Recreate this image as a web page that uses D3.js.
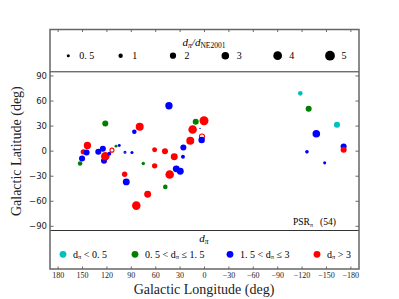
<!DOCTYPE html>
<html>
<head>
<meta charset="utf-8">
<script src="https://cdn.jsdelivr.net/npm/d3@7"></script>
<style>
  body { margin: 0; background: #fff; }
  svg { display: block; }
  .serif { font-family: "Liberation Serif", "DejaVu Serif", serif; }
  .sans { font-family: "DejaVu Sans", sans-serif; }
</style>
</head>
<body>
<div id="chart"></div>
<script>
// --- Data ---
// galactic longitude, latitude, d_pi / d_NE2001, d_pi bin, open marker
const lon = [153, 150.6, 149, 144, 145, 130.6, 125, 123.6, 122, 117, 113.8, 108.8, 104.8, 122,
  97.8, 89.2, 86.3, 79.7, 75.3, 98.2, 96.2, 83.9, 69.9, 61.3, 48.6, 61.3, 37.2, 42.8, 34.7,
  29.8, 48.2, 43.7, 26, 26.5, 10.8, 14.6, 17.5, 0.6, 3.1, 3.5, 5.5,
  -117.8, -128.1, -162.9, -137.5, -171.1, -171.1, -126, -147.8];
const lat = [-14.8, -8.8, -0.8, 6.8, -1.6, -0.8, 2.8, -11.6, -6, -3, 1.2, 6, 6.8, 33.2,
  -1.2, -1.6, 23.2, 29.2, -14.8, -27.6, -36.8, -65.2, -51.6, 1.6, 0, -17.6, -6.8, -28, -21.2,
  -24, -42.8, 54.4, 4.4, -6.8, 35.2, 26, 12.4, 36.4, 17.6, 13.2, 27.2,
  69.2, 50.8, 31.6, 20.8, 5.6, 1.6, -0.8, -14];
const ratio = [1.1, 1.9, 1.5, 2.8, 1.9, 1.9, 1.9, 1.9, 3.8, 0.8, 1.3, 0.45, 0.45, 1.9,
  0.45, 0.5, 1.1, 3.3, 0.6, 1.5, 2.5, 3.8, 2.5, 1.3, 1.9, 1.5, 2.5, 3.8, 2.5,
  2.5, 1.1, 2.8, 1.9, 0.8, 1.9, 3.8, 3.3, 4.2, 1.9, 2.2, 0.1,
  1.1, 1.9, 1.9, 3.0, 1.9, 1.9, 0.7, 0.5];
const bin = ["g", "b", "r", "r", "b", "b", "b", "b", "r", "b", "r", "g", "b", "g",
  "b", "b", "b", "r", "g", "r", "b", "r", "r", "r", "r", "r", "r", "r", "b",
  "b", "g", "b", "b", "b", "g", "r", "r", "r", "r", "b", "b",
  "c", "g", "c", "b", "b", "r", "b", "b"];
const openMarker = [10, 14, 38];

const xTicks = [180, 150, 120, 90, 60, 30, 0, -30, -60, -90, -120, -150, -180];
const yTicks = [90, 60, 30, 0, -30, -60, -90];
const sizeKeys = [0.5, 1, 2, 3, 4, 5];
const binKeys = ["c", "g", "b", "r"];
const binLabels = [["d", "π", " < 0. 5"], ["0. 5 < d", "π", " ≤ 1. 5"], ["1. 5 < d", "π", " ≤ 3"], ["d", "π", " > 3"]];

// --- Setup ---
const width = 399, height = 299;
const left = 50, right = 359;
const topBox = [29.5, 71.8], mainBox = [71.8, 230.5], botBox = [230.5, 269];

const color = d3.scaleOrdinal().domain(binKeys).range(["#00bfbf", "#008000", "#0000ff", "#ff0000"]);
const x = d3.scaleLinear().domain([190, -190]).range([left, right]);
const y = d3.scaleLinear().domain([-95, 95]).range([mainBox[1], mainBox[0]]);
const r = d3.scaleSqrt().domain([0, 5]).range([0, 4.9]);
const fmt = d => (d < 0 ? "\u2212" + Math.abs(d) : d);

const svg = d3.select("#chart").append("svg").attr("width", width).attr("height", height);

// --- Main plot points ---
const pts = lon.map((l, i) => ({ l, b: lat[i], s: ratio[i], c: bin[i], open: openMarker.includes(i) }));
svg.append("g").selectAll("circle").data(pts).join("circle")
    .attr("cx", d => x(d.l))
    .attr("cy", d => y(d.b))
    .attr("r", d => d.open ? r(d.s) - 0.5 : r(d.s))
    .attr("fill", d => d.open ? "#fff" : color(d.c))
    .attr("stroke", d => d.open ? color(d.c) : "none")
    .attr("stroke-width", 1.1);

// y ticks (inward, both sides)
const yt = svg.append("g");
yt.selectAll(".tl").data(yTicks).join("line")
    .attr("x1", left).attr("x2", left + 3.5).attr("y1", d => y(d)).attr("y2", d => y(d))
    .attr("stroke", "#444").attr("stroke-width", 0.8);
yt.selectAll(".tr").data(yTicks).join("line")
    .attr("x1", right).attr("x2", right - 3.5).attr("y1", d => y(d)).attr("y2", d => y(d))
    .attr("stroke", "#444").attr("stroke-width", 0.8);
yt.selectAll("text").data(yTicks).join("text")
    .attr("class", "sans")
    .attr("x", left - 3).attr("y", d => y(d) + 3)
    .attr("text-anchor", "end").attr("font-size", 8.5).attr("fill", "#222")
    .text(fmt);

// x ticks: top of top box and bottom of bottom box
svg.append("g").selectAll("line").data(xTicks).join("line")
    .attr("x1", d => x(d)).attr("x2", d => x(d)).attr("y1", topBox[0]).attr("y2", topBox[0] + 2.5)
    .attr("stroke", "#444").attr("stroke-width", 0.8);
svg.append("g").selectAll("line").data(xTicks).join("line")
    .attr("x1", d => x(d)).attr("x2", d => x(d)).attr("y1", botBox[1]).attr("y2", botBox[1] - 2.5)
    .attr("stroke", "#444").attr("stroke-width", 0.8);
svg.append("g").selectAll("text").data(xTicks).join("text")
    .attr("class", "serif")
    .attr("x", d => x(d)).attr("y", 278)
    .attr("text-anchor", "middle").attr("font-size", 8).attr("fill", "#222")
    .text(fmt);

// --- Frames ---
svg.append("line").attr("x1", left).attr("x2", right).attr("y1", mainBox[0]).attr("y2", mainBox[0])
    .attr("stroke", "#333").attr("stroke-width", 1);
svg.append("line").attr("x1", left).attr("x2", right).attr("y1", botBox[0]).attr("y2", botBox[0])
    .attr("stroke", "#333").attr("stroke-width", 1);
svg.append("rect").attr("x", left).attr("y", topBox[0])
    .attr("width", right - left).attr("height", botBox[1] - topBox[0])
    .attr("fill", "none").attr("stroke", "#666").attr("stroke-width", 1.5);

// --- Size legend (top box) ---
const sizeT = svg.append("text").attr("class", "serif").attr("x", 204).attr("y", 46)
    .attr("text-anchor", "middle").attr("font-size", 11).attr("font-style", "italic");
sizeT.append("tspan").text("d");
sizeT.append("tspan").attr("font-size", 7.5).attr("dy", 2).text("π");
sizeT.append("tspan").attr("dy", -2).text("/d");
sizeT.append("tspan").attr("font-size", 7.5).attr("dy", 2).attr("font-style", "normal").text("NE2001");

const sx = d3.scalePoint().domain(sizeKeys).range([68.3, 330]);
const sk = svg.append("g").selectAll("g").data(sizeKeys).join("g")
    .attr("transform", d => `translate(${sx(d)},55.7)`);
sk.append("circle").attr("r", d => r(d)).attr("fill", "#000");
sk.append("text").attr("class", "serif").attr("x", d => d === 0.5 ? 11 : 11.5).attr("y", 3.5)
    .attr("font-size", 10).text(d => d === 0.5 ? "0. 5" : d);

// --- Colour legend (bottom box) ---
const binT = svg.append("text").attr("class", "serif").attr("x", 204).attr("y", 242)
    .attr("text-anchor", "middle").attr("font-size", 11).attr("font-style", "italic");
binT.append("tspan").text("d");
binT.append("tspan").attr("font-size", 7.5).attr("dy", 2).text("π");

const bx = [63, 135, 230, 317];
const bk = svg.append("g").selectAll("g").data(binKeys).join("g")
    .attr("transform", (d, i) => `translate(${bx[i]},254.3)`);
bk.append("circle").attr("r", 3.4).attr("fill", d => color(d));
bk.each(function(d, i) {
    const t = d3.select(this).append("text").attr("class", "serif")
        .attr("x", 10).attr("y", 3.5).attr("font-size", 10).attr("xml:space", "preserve");
    const [a, sub, b] = binLabels[i];
    t.append("tspan").text(a);
    t.append("tspan").attr("font-size", 6.5).attr("dy", 1.5).text(sub);
    t.append("tspan").attr("dy", -1.5).text(b);
});

// --- PSR count note ---
const note = svg.append("text").attr("class", "serif").attr("x", 293).attr("y", 225)
    .attr("font-size", 9.5).attr("xml:space", "preserve");
note.append("tspan").text("PSR");
note.append("tspan").attr("font-size", 6).attr("dy", 1.5).text("π");
note.append("tspan").attr("dy", -1.5).text("   (54)");

// --- Axis titles ---
svg.append("text").attr("class", "serif")
    .attr("transform", `translate(21,${y(0)}) rotate(-90)`)
    .attr("text-anchor", "middle").attr("font-size", 14).attr("fill", "#222")
    .text("Galactic Latitude (deg)");
svg.append("text").attr("class", "serif")
    .attr("x", 204).attr("y", 294)
    .attr("text-anchor", "middle").attr("font-size", 14).attr("fill", "#222")
    .text("Galactic Longitude (deg)");
</script>
</body>
</html>
